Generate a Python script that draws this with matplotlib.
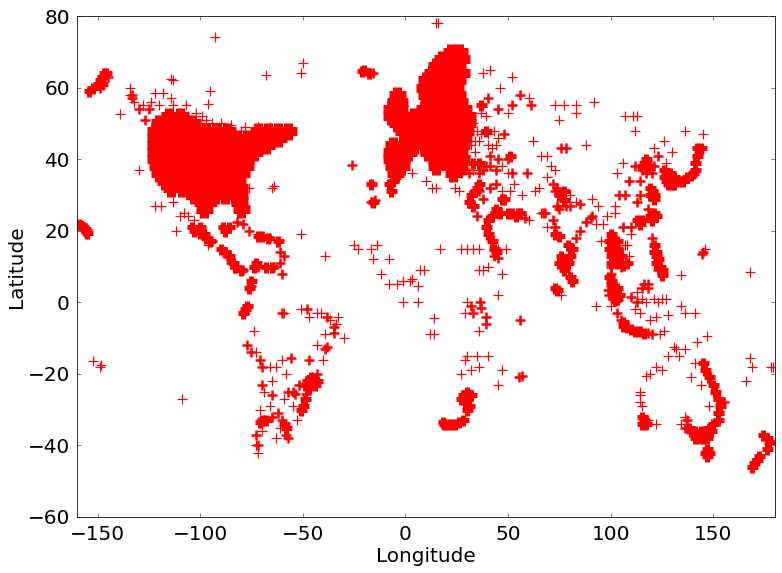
import matplotlib
matplotlib.use('Agg')
import matplotlib.pyplot as plt

# solid land masses: latitude -> longitudes
usa_rows = {
    52: [-115, -110],
    50: [-120, -116, -112, -108, -104],
    48: [-122, -117, -112, -107, -102, -97, -92, -87, -72, -67, -62, -57],
    46: [-122, -117, -112, -107, -102, -97, -92, -87, -82, -77, -72, -67, -62],
    44: [-122, -117, -112, -107, -102, -97, -92, -87, -82, -77, -72, -68],
    42: [-122, -117, -112, -107, -102, -97, -92, -87, -82, -77, -74],
    40: [-122, -117, -112, -107, -102, -97, -92, -87, -82, -78],
    38: [-121, -116, -111, -106, -101, -96, -91, -86, -81, -78],
    36: [-120, -115, -110, -105, -100, -95, -90, -85, -80],
    34: [-117, -112, -107, -102, -97, -92, -87, -82],
    32: [-114, -109, -104, -99, -94, -89, -84, -81],
    30: [-103, -98, -93, -88, -83, -81],
    28: [-99, -96, -81],
    26: [-98, -80],
}
europe_rows = {
    70: [22, 26],
    68: [18, 23, 27],
    66: [15, 20, 25],
    64: [13, 18, 23, 27],
    62: [10, 15, 20, 25],
    60: [9, 14, 19, 24],
    58: [-4, 10, 15, 20, 25],
    56: [-5, -3, 11, 16, 21, 26],
    54: [-7, -3, 9, 14, 19, 24, 28],
    52: [-7, -2, 4, 8, 13, 18, 23, 28, 30],
    50: [-4, 1, 6, 11, 16, 21, 26, 30],
    48: [-1, 4, 9, 14, 19, 24, 29],
    46: [1, 6, 11, 16, 21, 26, 28],
    44: [-6, -1, 4, 9, 14, 19, 24, 27],
    42: [-7, -2, 1, 11, 16, 21, 26],
    40: [-7, -2, 15, 19, 23, 27],
    38: [-6, -2, 15, 22, 26],
    36: [-5, 23],
}

# small solid blobs: big cities, coasts
blob_pts = [
    (100, 19), (99, 17), (101, 17), (103, 17), (99, 15), (101, 15), (103, 15), (100, 13), (102, 13), (105, 13),
    (100, 11), (103, 11), (106, 10.5), (108, 11), (99, 7), (100, 5), (101, 4), (100, 6), (102, 3), (103, 2),
    (103, 1), (101, 2), (104, 2), (103, 4), (102, 0.5),
    (106, -6.5), (108, -7), (110, -7.5), (112, -8), (114, -8), (116, -8.5), (106, -5.5),
    (121, 16), (121, 14), (122, 14), (123, 12), (124, 10), (125, 9), (122, 11), (125, 7.5), (122, 13),
    (113, 23), (115, 23), (120, 23), (121, 25), (119, 24), (122, 24), (114, 22),
    (119, 32), (120, 31), (121, 30), (121, 29), (119, 30), (116, 39), (117, 40), (118, 38), (115, 38), (117, 39),
    (126, 37), (127, 36), (128, 35), (127, 34), (129, 36), (126, 35), (130, 33), (131, 33), (128, 33), (131, 35),
    (133, 34), (135, 34), (137, 35), (139, 35.5), (140, 36), (141, 37), (141, 39), (142, 41), (142, 43), (144, 43),
    (73, 19), (75, 18.5), (76, 13), (78, 12), (75, 11), (77, 9), (79, 11), (80, 13), (81, 15), (79, 16),
    (77, 28.5), (77, 31), (75, 30), (80, 7), (81, 6), (73, 4), (74, 3.5),
    (145, -17), (146, -19), (148, -21), (150, -23), (151, -25), (152, -27), (153, -29), (152, -31), (152, -33),
    (150, -34), (149, -36), (147, -38), (145, -38), (143, -38), (141, -38), (139, -36), (138, -35), (144, -36),
    (146, -36), (148, -35), (141, -36), (146, -42), (148, -42), (147, -41), (147, -43),
    (115, -32), (116, -33), (115, -34), (117, -34),
    (174, -37), (176, -38), (177, -39), (176, -41), (172, -43), (171, -44), (169, -46), (170, -45),
    (-48, -22), (-45, -22), (-44, -23), (-47, -24), (-43, -22), (-46, -21), (-49, -23),
    (-51, -30), (-50, -29), (-49, -27), (-70, -33), (-71, -33.5), (-68, -33), (-58, -35), (-59, -34),
    (-78, -2), (-79, -3), (-77, -1),
    (28, -26), (30, -25), (32, -26), (29, -28), (31, -29), (30, -30), (28, -33), (26, -33.5), (22, -34),
    (19, -34), (18.5, -33.5), (20, -34), (24, -34), (27, -27), (30, -27),
    (44, 26), (47, 29), (48, 29), (46, 25), (50, 25), (52, 25), (54, 24), (55, 25), (56, 25), (42, 24), (40, 23),
    (39, 21), (40, 19), (42, 17), (43, 15), (44, 14), (34, 31), (35, 32), (36, 33), (32, 30), (31, 28), (33, 27),
    (-103, 20), (-100, 19.5), (-98, 19), (-97, 18), (-100, 21), (-104, 21), (-95, 17), (-88, 20), (-89, 21),
    (-86, 21), (-90, 15), (-88, 14), (-86, 13), (-84, 11), (-83, 10), (-80, 9), (-70, 18.5), (-67, 18), (-72, 18.5),
    (-62, 17), (-73, 11), (-74, 10), (-68, 10), (-65, 10), (-75, 6), (-76, 4),
    (-154, 59), (-152, 60), (-150, 61), (-149, 62), (-148, 63), (-147, 64), (-146, 64), (-148, 61),
    (-159, 22), (-158, 21.5), (-157, 21), (-156, 20.5), (-155.5, 20), (-155, 19.5),
    (-20, 65), (-18, 64), (-21, 64.5), (-16, 28), (-8, 33), (-7, 31), (-17, 33), (-5, 35), (-6, 34),
    (39, 48), (37, 55), (51, 41), (22, 37), (26, 37), (36, 39), (33, 39),
]

# tight clusters around the coasts
cluster_pts = [
    (-149, 60), (-145, 63), (-16, 64), (-15, 28.5), (-17, 28), (-26, 38.5),
    (-94, 17), (-87, 13), (-85, 11), (-83, 9.5), (-79, 9), (-82, 22.5), (-79, 22), (-76, 20),
    (-66, 18), (-61, 14), (-61, 11), (-72, 10), (-64, 10), (-75, 4.5), (-59, 13), (-60, 8),
    (-60, -3), (-48, -2), (-38, -4), (-35, -7), (-35, -8.5), (-39, -13), (-38, -12.5), (-77, -12), (-75, -14),
    (-71, -16), (-70, -18), (-70, -23), (-65, -32), (-65, -26), (-60, -33), (-62, -31), (-57, -25), (-55, -25),
    (-56, -15.5), (-54, -25.5), (-48.5, -25.5), (-52, -23), (-47, -16), (-43, -20), (-58, -37), (-57, -38),
    (-72, -40), (-73, -37),
    (32, -1), (33, -3), (37, -1.5), (36.5, 0), (39, -6), (39, -4), (55.5, -21), (57, -20.5), (56, -5),
    (36, 36), (29, 37), (31, 36), (35, 24), (36, 31), (38, 29), (43, 13), (45, 12.5),
    (41, 32), (44, 33), (44, 37), (38, 37), (41, 41), (45, 40), (50, 40), (52, 36), (59, 36), (58, 23.5),
    (48, 47), (40, 57), (52, 55), (61, 55), (56, 58), (45, 54),
    (72, 23), (73, 21), (83, 18), (85, 20), (88, 22.5), (75, 26), (72, 33), (74, 32), (73, 31), (67, 25),
    (68, 25), (85, 27.5), (91, 24), (90.5, 23.5), (80, 27), (78, 27), (74, 27),
    (106, 21), (105, 10), (100, 8), (100, 10), (104, 15), (99, 2), (101, 1), (98.5, 3.5),
    (103, -3), (105, -5), (118, -8.5), (120, -9), (113, 0), (110, 1.5), (116, 5), (118, 5), (118, 4), (115, 4),
    (120, 18), (123, 9), (110, 21), (118, 26), (114, 30), (113, 28), (104, 30), (107, 30), (109, 34), (114, 34),
    (121, 38), (123, 41), (115, 37), (120, 36), (117, 36), (112, 38), (145, 14), (144.5, 13.5), (129, 33), (143, 42),
    (137, -33), (136, -35), (155, -28),
    (20, 40), (27, 36), (29, 41), (39, 38), (41, 38), (76, 43), (78, 43),
    (-133, 58), (-133, 57), (-127, 51), (-130, 54), (-125, 54),
]

# single readable crosses
single_pts = [
    (-93, 74), (-50, 67), (-51, 64), (-68, 63.5), (-114, 62.5), (-113, 62), (-134, 60), (-134, 58), (-132, 56),
    (-128, 55), (-124, 56), (-122, 58.5), (-118, 58.5), (-114, 57), (-120, 55), (-107, 55), (-95, 59), (-96, 55.5),
    (-139, 52.5), (-130, 37), (-122, 27), (-119, 27), (-107, 30), (-106, 24), (-112, 20), (-110, 24), (-113, 28),
    (-108, 25), (-103, 23), (-100, 25), (-96, 16), (-76, 32), (-65, 32), (-64, 32.5), (-51, 19), (-39, 13),
    (-33, -4), (-39, -9), (-34, -6), (-30, -10), (-109, -27), (-152, -16.5), (-149, -18), (-148.5, -17.5),
    (-59, -3), (-51, -2), (-47, -4), (-43, -3), (-41, -3), (-37, -5), (-78, -3), (-74, -8), (-73, -14),
    (-66, -18), (-63, -18), (-65, -22), (-60, -16), (-58, -20), (-59, -27), (-55, -29), (-69, -25), (-66, -29),
    (-71, -30), (-72, -42), (-73, -40), (-70, -36), (-63, -38), (-61, -35), (-53, -33), (-43, -12), (-40, -16),
    (-110, 53), (-106, 52), (-102, 53), (-99, 52), (-97, 51), (-94, 50), (-90, 50), (-103, 49.5), (-85, 49.5),
    (-78, 49), (-72, 49), (-66, 49), (-60, 48), (-113, 55), (-108, 51), (-100, 50), (-80, 48),
    (-14, 16), (-17, 15), (-12, 8), (-8, 12), (-4, 5), (-1, 6), (2, 6), (3, 6.5), (6, 4.5), (9, 9), (7, 9),
    (-1, 0), (6, 0), (14, -4.5), (12, -9), (14, -9), (17, 15), (13, 32), (15, 32), (3, 36), (10, 34),
    (24, 32), (26, 31), (36, 15), (38, 9), (33, 15), (27, 15), (29, -16), (30, -15), (35, -15), (27, -20),
    (36, -18), (40, -15), (47, -19), (45, -23), (32, -19), (36, -8), (29, -3), (30, 0),
    (15, 78), (16, 78), (41, 65), (52, 63), (38, 64), (46, 60), (50, 53), (60, 57), (43, 48), (62, 45),
    (66, 41), (69, 41), (71, 38), (63, 31), (65, 32), (69, 35), (73, 37), (78, 43), (73, 55), (83, 55),
    (83, 53), (92, 56), (75, 51), (77, 55), (111, 52), (113, 52), (112, 48), (107, 52), (136, 48), (145, 47),
    (121, 43), (126, 45), (127, 39), (130, 42), (106, 39), (103, 36), (88, 44), (91, 29), (83, 28),
    (94, 27), (96, 22), (98, 24), (102, 25), (102, 27), (95, 17), (93, 22), (110, 19), (108, 16), (109, 13),
    (107, 16), (113, 3), (115, 1), (117, 0), (114, -3), (112, -2), (121, 1), (123, 0), (119, -5), (122, -4),
    (125, 1), (127, 1), (128, -3.5), (134, -1), (136, -3), (141, -3), (147, -9.5), (126, -8), (134, 7.5),
    (146, 15), (168, 8.5), (168, -15.5), (169, -18), (178, -18), (179, -18), (166, -22),
    (131, -12.5), (132, -13), (136, -13), (133, -15), (128, -15), (122, -18), (119, -20), (117, -20.5),
    (114, -25), (114, -26), (114, -28), (115, -29), (122, -34), (118, -33), (125, -19),
    (142, -11), (141, -17), (139, -21), (144, -23), (148, -29), (136, -32), (134, -34),
    (124, -9), (93, -1), (100, -1), (76, 2), (80, 30), (66, 25), (69, 21), (60, 23),
    (47, 8), (45, 2), (40, 10), (36, 9), (45, 15), (49, 15), (30, 15), (-16, 12), (-8, 5), (-25, 16), (-23, 15),
    (31, 52), (33, 50), (35, 48), (37, 47), (40, 47), (39, 52), (37, 53), (36, 45), (40, 44), (42, 43), (44, 44),
    (33, 37), (47, 38), (50, 36), (53, 33), (47, 31), (51, 31), (57, 30), (34, 45), (45, 46), (34, 42), (32, 44),
]

blob_lon = [p[0] for p in blob_pts]
blob_lat = [p[1] for p in blob_pts]
cluster_lon = [p[0] for p in cluster_pts]
cluster_lat = [p[1] for p in cluster_pts]
single_lon = [p[0] for p in single_pts]
single_lat = [p[1] for p in single_pts]

plt.rcParams['font.family'] = 'DejaVu Sans'
plt.rcParams['font.size'] = 20

fig = plt.figure(figsize=(782 / 72, 573 / 72), dpi=72)
ax = fig.add_axes([77 / 782, 1 - 517 / 573, 698 / 782, 501 / 573])

for rows in [usa_rows, europe_rows]:
    for lat, lons in rows.items():
        ax.plot(lons, [lat] * len(lons), '+', color='red', ms=17, mew=9)

ax.plot(blob_lon, blob_lat, '+', color='red', ms=11, mew=5)
ax.plot(cluster_lon, cluster_lat, '+', color='red', ms=10, mew=2.5)
ax.plot(single_lon, single_lat, '+', color='red', ms=10, mew=1.2)

ax.set_xlim(-160, 180)
ax.set_ylim(-60, 80)
ax.set_xticks(range(-150, 151, 50))
ax.set_yticks(range(-60, 81, 20))
ax.set_xlabel('Longitude', fontsize=20, labelpad=3)
ax.set_ylabel('Latitude', fontsize=20, labelpad=2)
ax.tick_params(direction='in', length=4, width=0.5, labelsize=20, top=True, right=True, pad=8)
ax.tick_params(axis='y', pad=7)

plt.savefig('out.png', dpi=72)
